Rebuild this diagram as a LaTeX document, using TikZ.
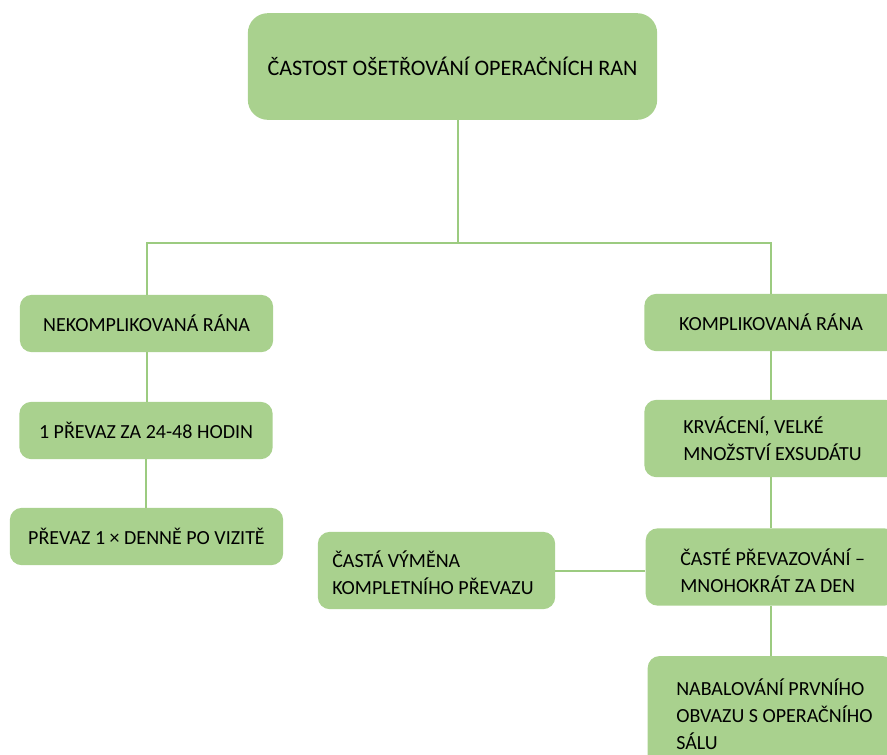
\documentclass[tikz,border=0pt]{standalone}
\usepackage{fontspec}
\setmainfont{Carlito}
\definecolor{boxgreen}{HTML}{A9D18E}
\definecolor{linkgreen}{HTML}{9CCB80}
\tikzset{
  ranebox/.style={fill=boxgreen, rounded corners=9pt, inner sep=0pt, align=center,
    font=\fontsize{15}{20.25}\selectfont},
  boxtext/.style={anchor=west, align=left, inner sep=0pt, font=\fontsize{15}{20.25}\selectfont},
  link/.style={draw=linkgreen, line width=1.5pt}
}
\begin{document}
\begin{tikzpicture}[x=0.75pt,y=-0.75pt]
  \useasboundingbox (0,0) rectangle (887,754);
  \clip (0,0) rectangle (887,754);
  % head
  \node[ranebox, rounded corners=15pt, minimum width=307pt, minimum height=80pt,
    font=\fontsize{16.6}{20}\selectfont] (hlava) at (452.5,66.5) {ČASTOST OŠETŘOVÁNÍ OPERAČNÍCH RAN};
  % left branch
  \node[ranebox, minimum width=190pt, minimum height=43pt] (nekompl) at (146.5,323.5) {NEKOMPLIKOVANÁ RÁNA};
  \node[ranebox, minimum width=190pt, minimum height=43pt] (jedenkrat) at (146,430.5) {1 PŘEVAZ ZA 24-48 HODIN};
  \node[ranebox, minimum width=205pt, minimum height=43pt] (denne) at (146.5,536.5) {PŘEVAZ 1 × DENNĚ PO VIZITĚ};
  % right branch
  \node[ranebox, minimum width=190pt, minimum height=43pt] (kompl) at (771,322.5) {KOMPLIKOVANÁ RÁNA};
  \node[ranebox, minimum width=190pt, minimum height=58pt] (krvaceni) at (771,438.5) {};
  \node[boxtext] (krvacenitext) at (683,438.5) {KRVÁCENÍ, VELKÉ\\MNOŽSTVÍ EXSUDÁTU};
  \node[ranebox, minimum width=188pt, minimum height=58pt] (caste) at (771,567) {};
  \node[boxtext] (castetext) at (680,571) {ČASTÉ PŘEVAZOVÁNÍ –\\MNOHOKRÁT ZA DEN};
  \node[ranebox, minimum width=178pt, minimum height=58pt] (vymena) at (436.5,570.5) {};
  \node[boxtext] (vymenatext) at (332,573) {ČASTÁ VÝMĚNA\\KOMPLETNÍHO PŘEVAZU};
  \node[ranebox, minimum width=185pt, minimum height=87pt] (nabalovani) at (771,714) {};
  \node[boxtext] (nabalovanitext) at (676,714) {NABALOVÁNÍ PRVNÍHO\\OBVAZU S OPERAČNÍHO\\SÁLU};
  % connectors
  \coordinate (uzel) at (458,243);
  \draw[link] (hlava.south -| uzel) -- (uzel);
  \draw[link] (nekompl.north) |- (uzel) -| (kompl.north);
  \draw[link] (nekompl.south) -- (nekompl.south |- jedenkrat.north);
  \draw[link] (jedenkrat.south) -- (jedenkrat.south |- denne.north);
  \draw[link] (kompl.south) -- (krvaceni.north);
  \draw[link] (krvaceni.south) -- (caste.north);
  \draw[link] (caste.south) -- (nabalovani.north);
  \draw[link] (vymena.east) -- (vymena.east -| caste.west);
\end{tikzpicture}
\end{document}
